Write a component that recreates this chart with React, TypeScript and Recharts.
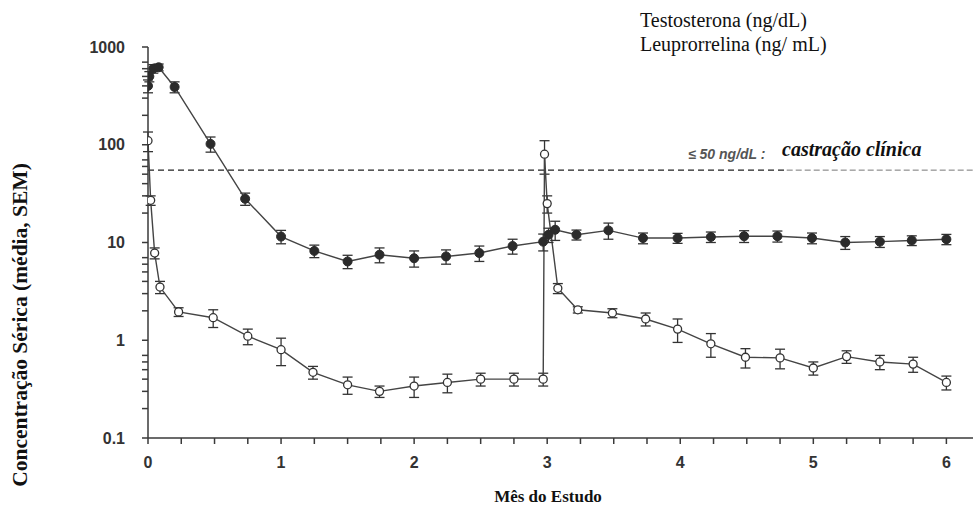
import { LineChart, Line, XAxis, YAxis, ErrorBar, ReferenceLine } from 'recharts'

// ─── Dados ────────────────────────────────────────────────────────────────────

const testoMonths = [0, 0.01, 0.04, 0.08, 0.2, 0.47, 0.73, 1.0, 1.25, 1.5, 1.74, 2.0, 2.24, 2.49, 2.74, 2.97, 3.01, 3.06, 3.22, 3.46, 3.72, 3.98, 4.23, 4.48, 4.73, 4.99, 5.24, 5.5, 5.74, 6.0]
const testoValues = [400, 500, 600, 620, 390, 102, 28, 11.5, 8.2, 6.4, 7.5, 6.9, 7.2, 7.8, 9.2, 10.2, 12, 13.5, 12, 13.3, 11.1, 11.1, 11.4, 11.6, 11.6, 11.1, 10, 10.2, 10.5, 10.8]
const testoSem = [60, 60, 60, 50, 50, 18, 4, 1.8, 1.2, 1, 1.3, 1.3, 1.2, 1.4, 1.6, 2, 2, 3, 1.4, 2.5, 1.4, 1.3, 1.4, 1.6, 1.5, 1.4, 1.5, 1.3, 1.2, 1.3]

const leupMonths = [0, 0.02, 0.05, 0.09, 0.23, 0.49, 0.75, 1.0, 1.24, 1.5, 1.74, 2.0, 2.25, 2.5, 2.75, 2.97, 2.98, 3.0, 3.08, 3.23, 3.49, 3.74, 3.98, 4.23, 4.49, 4.75, 5.0, 5.25, 5.5, 5.75, 6.0]
const leupValues = [110, 27, 7.8, 3.5, 1.95, 1.7, 1.1, 0.8, 0.47, 0.35, 0.3, 0.34, 0.37, 0.4, 0.4, 0.4, 80, 25, 3.4, 2.05, 1.9, 1.65, 1.3, 0.92, 0.67, 0.66, 0.52, 0.68, 0.6, 0.57, 0.37]
const leupSem = [25, 3, 1, 0.5, 0.2, 0.35, 0.2, 0.25, 0.07, 0.07, 0.04, 0.08, 0.08, 0.06, 0.06, 0.06, 30, 5, 0.4, 0.15, 0.2, 0.25, 0.35, 0.25, 0.15, 0.15, 0.08, 0.1, 0.1, 0.1, 0.06]

const xTicks = [0, 0.25, 0.5, 0.75, 1, 1.25, 1.5, 1.75, 2, 2.25, 2.5, 2.75, 3, 3.25, 3.5, 3.75, 4, 4.25, 4.5, 4.75, 5, 5.25, 5.5, 5.75, 6]
const yTicks = [
  0.1, 0.2, 0.3, 0.4, 0.5, 0.6, 0.7, 0.8, 0.9,
  1, 2, 3, 4, 5, 6, 7, 8, 9,
  10, 20, 30, 40, 50, 60, 70, 80, 90,
  100, 200, 300, 400, 500, 600, 700, 800, 900,
  1000,
]
const yLabels = [0.1, 1, 10, 100, 1000]
const castrationLimit = 55
// a linha tracejada fica mais clara depois do rótulo
const dashBreak = 4.8

const testoData = testoMonths.map((month, i) => ({ month, value: testoValues[i], sem: testoSem[i] }))
const leupData = leupMonths.map((month, i) => ({ month, value: leupValues[i], sem: leupSem[i] }))

const AXIS = '#3a3a3a'
const tickStyle = { fontSize: 16, fontWeight: 700, fill: '#333', fontFamily: 'Liberation Sans, Arial, sans-serif' }
const serif = '"Liberation Serif", "Times New Roman", serif'

export default function App() {
  return (
    <div style={{ position: 'absolute', left: 0, top: 0, width: 973, height: 506, background: '#fff' }}>
      <LineChart width={973} height={506} margin={{ top: 47, right: 0, bottom: 0, left: 0 }}>
        <XAxis
          type="number"
          dataKey="month"
          domain={[0, 6.2]}
          ticks={xTicks}
          allowDataOverflow
          height={68}
          tickSize={6}
          tickMargin={13}
          stroke={AXIS}
          strokeWidth={1.5}
          tick={tickStyle}
          tickFormatter={(v: number) => (Number.isInteger(v) ? String(v) : '')}
        />
        <YAxis
          scale="log"
          domain={[0.1, 1000]}
          ticks={yTicks}
          allowDataOverflow
          width={148}
          tickSize={6}
          tickMargin={17}
          stroke={AXIS}
          strokeWidth={1.5}
          tick={tickStyle}
          tickFormatter={(v: number) => (yLabels.includes(v) ? String(v) : '')}
        />
        <ReferenceLine
          segment={[{ x: 0, y: castrationLimit }, { x: dashBreak, y: castrationLimit }]}
          stroke="#222"
          strokeWidth={1.3}
          strokeDasharray="6 4"
        />
        <ReferenceLine
          segment={[{ x: dashBreak, y: castrationLimit }, { x: 6.2, y: castrationLimit }]}
          stroke="#777"
          strokeWidth={1}
          strokeDasharray="6 3"
        />
        <Line
          data={leupData}
          dataKey="value"
          stroke="#444"
          strokeWidth={1.4}
          isAnimationActive={false}
          dot={{ r: 4, fill: '#fff', stroke: '#333', strokeWidth: 1.3 }}
        >
          <ErrorBar dataKey="sem" direction="y" width={5} stroke="#333" strokeWidth={1.3} />
        </Line>
        <Line
          data={testoData}
          dataKey="value"
          stroke="#444"
          strokeWidth={1.4}
          isAnimationActive={false}
          dot={{ r: 4.5, fill: '#2b2b2b', stroke: '#2b2b2b', strokeWidth: 1 }}
        >
          <ErrorBar dataKey="sem" direction="y" width={5} stroke="#333" strokeWidth={1.3} />
        </Line>
      </LineChart>

      {/* Legenda */}
      <div style={{ position: 'absolute', left: 640, top: 8, fontFamily: serif, fontSize: 20, lineHeight: '24px', color: '#111' }}>
        <div>Testosterona (ng/dL)</div>
        <div>Leuprorrelina (ng/ mL)</div>
      </div>

      {/* Anotação da linha de castração */}
      <div style={{ position: 'absolute', left: 688, top: 146, fontFamily: 'Liberation Sans, Arial, sans-serif', fontSize: 14, fontWeight: 700, fontStyle: 'italic', color: '#555', whiteSpace: 'nowrap' }}>
        ≤ 50 ng/dL :
      </div>
      <div style={{ position: 'absolute', left: 782, top: 138, fontFamily: serif, fontSize: 20, fontWeight: 700, fontStyle: 'italic', color: '#111', whiteSpace: 'nowrap' }}>
        castração clínica
      </div>

      {/* Títulos dos eixos */}
      <div style={{ position: 'absolute', left: 548, top: 487, transform: 'translateX(-50%)', fontFamily: serif, fontSize: 17, fontWeight: 700, whiteSpace: 'nowrap', color: '#111' }}>
        Mês do Estudo
      </div>
      <div style={{ position: 'absolute', left: 20, top: 325, transform: 'translate(-50%, -50%) rotate(-90deg)', fontFamily: serif, fontSize: 21.5, fontWeight: 700, whiteSpace: 'nowrap', color: '#111' }}>
        Concentração Sérica (média, SEM)
      </div>
    </div>
  )
}
